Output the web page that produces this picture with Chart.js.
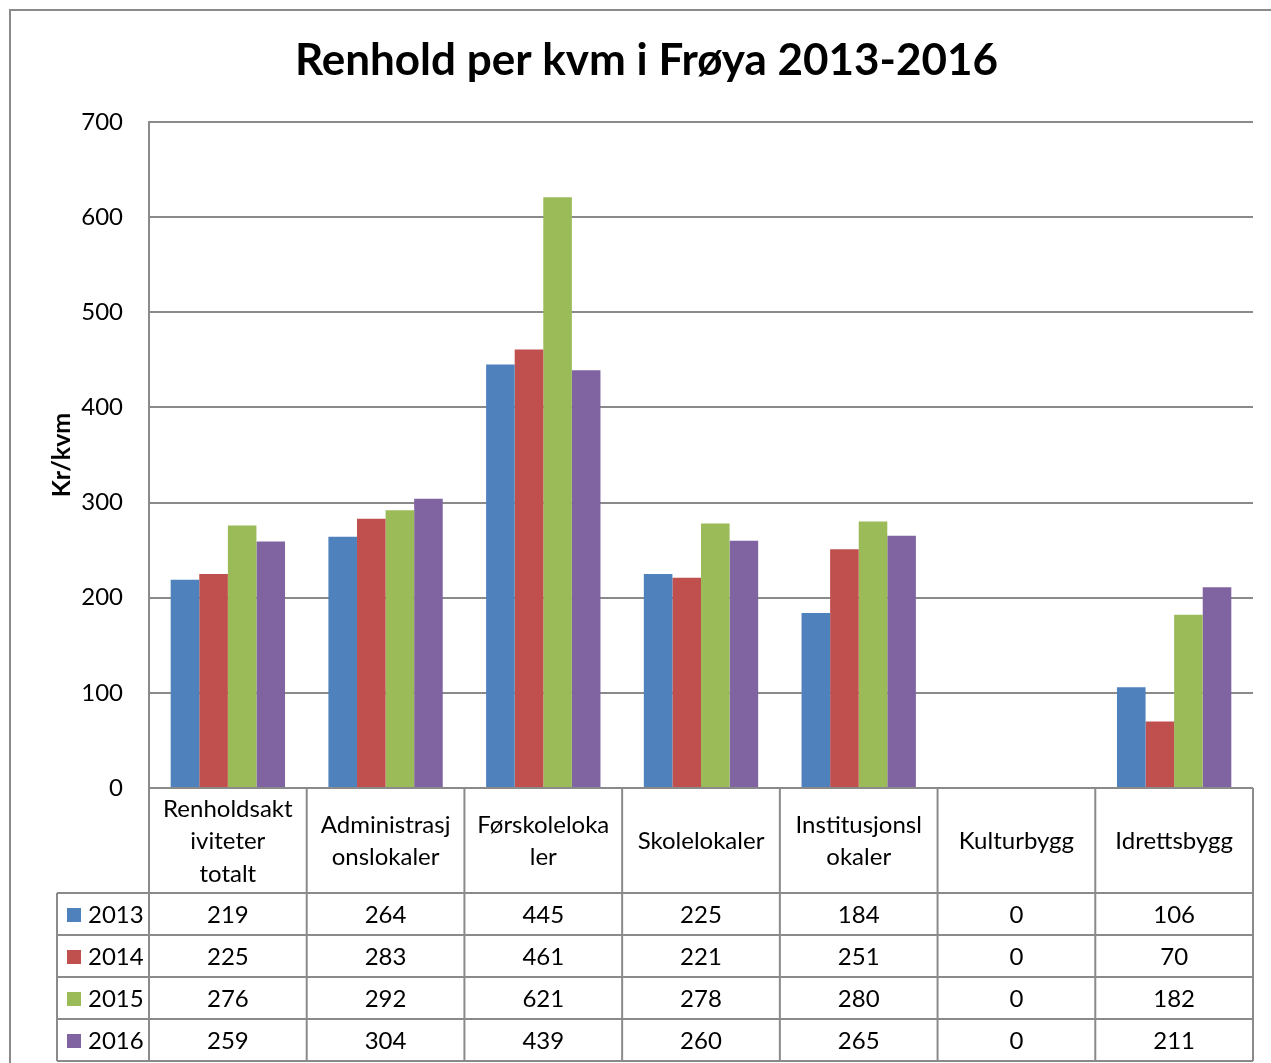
<!DOCTYPE html>
<html>
<head>
<meta charset="utf-8">
<script src="https://cdn.jsdelivr.net/npm/chart.js@4/dist/chart.umd.min.js"></script>
<style>
  html, body { margin: 0; padding: 0; background: #ffffff; }
  canvas { display: block; }
</style>
</head>
<body>
<canvas id="chart" width="1271" height="1063"></canvas>
<script>
// Building categories and their wrapped header text in the data table
const categories = ['Renholdsaktiviteter totalt', 'Administrasjonslokaler', 'Førskolelokaler', 'Skolelokaler', 'Institusjonslokaler', 'Kulturbygg', 'Idrettsbygg'];
const categoryLines = [['Renholdsakt', 'iviteter', 'totalt'], ['Administrasj', 'onslokaler'], ['Førskoleloka', 'ler'], ['Skolelokaler'], ['Institusjonsl', 'okaler'], ['Kulturbygg'], ['Idrettsbygg']];

// Cost per square metre (kr/kvm) per year
const years = ['2013', '2014', '2015', '2016'];
const values2013 = [219, 264, 445, 225, 184, 0, 106];
const values2014 = [225, 283, 461, 221, 251, 0, 70];
const values2015 = [276, 292, 621, 278, 280, 0, 182];
const values2016 = [259, 304, 439, 260, 265, 0, 211];

// Value axis
const yMin = 0;
const yMax = 700;
const yStep = 100;

const seriesValues = [values2013, values2014, values2015, values2016];
const seriesColors = ['#4F81BD', '#C0504D', '#9BBB59', '#8064A2'];

const FONT = 'Lato, "Open Sans", sans-serif';
const LINE = '#8a8a8a';

// Data table under the plot, legend keys, frame and title
const tablePlugin = {
  id: 'dataTable',
  beforeDraw(chart) {
    const ctx = chart.ctx;
    ctx.save();
    ctx.fillStyle = '#ffffff';
    ctx.fillRect(0, 0, chart.width, chart.height);
    ctx.strokeStyle = LINE;
    ctx.lineWidth = 2;
    ctx.strokeRect(10, 10, chart.width + 40, chart.height + 40);
    ctx.restore();
  },
  afterDraw(chart) {
    const ctx = chart.ctx;
    const xs = chart.scales.x;
    const area = chart.chartArea;
    const n = categories.length;
    const colW = (area.right - area.left) / n;
    const headTop = area.bottom;
    const headBottom = xs.bottom;
    const rowH = 42;
    const tableBottom = headBottom + rowH * years.length;
    const legendLeft = 57;

    ctx.save();
    ctx.strokeStyle = LINE;
    ctx.lineWidth = 2;
    ctx.beginPath();
    // horizontal rules
    ctx.moveTo(area.left, headTop); ctx.lineTo(area.right, headTop);
    for (let r = 0; r <= years.length; r++) {
      const y = headBottom + r * rowH;
      ctx.moveTo(legendLeft, y); ctx.lineTo(area.right, y);
    }
    // vertical rules
    for (let i = 0; i <= n; i++) {
      const x = area.left + i * colW;
      ctx.moveTo(x, headTop); ctx.lineTo(x, tableBottom);
    }
    ctx.moveTo(legendLeft, headBottom); ctx.lineTo(legendLeft, tableBottom);
    ctx.stroke();

    ctx.font = '24px ' + FONT;
    ctx.textBaseline = 'middle';
    for (let r = 0; r < years.length; r++) {
      const cy = headBottom + r * rowH + rowH / 2 + 1;
      // legend key
      ctx.fillStyle = seriesColors[r];
      ctx.fillRect(67, cy - 7, 14, 14);
      ctx.fillStyle = '#000000';
      ctx.textAlign = 'left';
      ctx.fillText(years[r], 88, cy);
      // values
      ctx.textAlign = 'center';
      for (let i = 0; i < n; i++) {
        ctx.fillText(String(seriesValues[r][i]), xs.getPixelForValue(i), cy);
      }
    }

    // chart title
    ctx.font = 'bold 44px ' + FONT;
    ctx.textAlign = 'center';
    ctx.fillText('Renhold per kvm i Frøya 2013-2016', 646.5, 61);
    ctx.restore();
  }
};

new Chart(document.getElementById('chart'), {
  type: 'bar',
  data: {
    labels: categories,
    datasets: years.map((y, k) => ({
      label: y,
      data: seriesValues[k],
      backgroundColor: seriesColors[k],
      borderWidth: 0,
      categoryPercentage: 0.725,
      barPercentage: 1.0
    }))
  },
  options: {
    responsive: false,
    animation: false,
    devicePixelRatio: 1,
    layout: { padding: { top: 122, right: 18, bottom: 170, left: 0 } },
    plugins: {
      legend: { display: false },
      title: { display: false },
      tooltip: { enabled: false }
    },
    scales: {
      x: {
        grid: { display: false },
        border: { display: false },
        ticks: {
          autoSkip: false,
          maxRotation: 0,
          minRotation: 0,
          padding: 13,
          crossAlign: 'center',
          color: '#000000',
          font: { family: FONT, size: 24, lineHeight: 1.35 },
          callback: (v, i) => categoryLines[i]
        },
        afterFit(scale) { scale.height = 105; }
      },
      y: {
        min: yMin,
        max: yMax,
        grid: { color: LINE, lineWidth: 2, drawTicks: false },
        border: { display: true, color: LINE, width: 2 },
        ticks: {
          stepSize: yStep,
          padding: 26,
          color: '#000000',
          font: { family: FONT, size: 24 }
        },
        title: {
          display: true,
          text: 'Kr/kvm',
          color: '#000000',
          font: { family: FONT, size: 25, weight: 'bold' },
          padding: { top: 47, bottom: 0 }
        },
        afterFit(scale) { scale.width = 149; }
      }
    }
  },
  plugins: [tablePlugin]
});
</script>
</body>
</html>
